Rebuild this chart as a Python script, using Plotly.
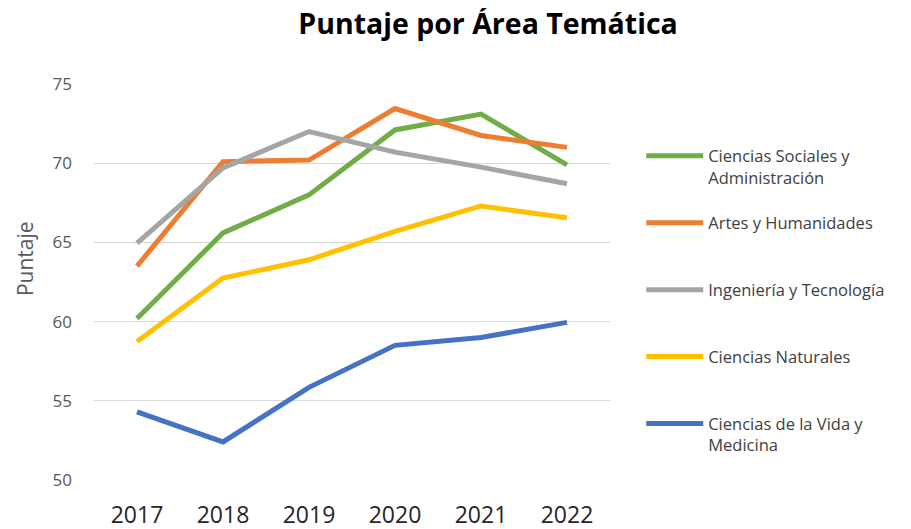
import plotly.graph_objects as go

years = ["2017", "2018", "2019", "2020", "2021", "2022"]
series_names = [
    "Ciencias Sociales y<br>Administración",
    "Artes y Humanidades<br> ",
    "Ingeniería y Tecnología<br> ",
    "Ciencias Naturales<br> ",
    "Ciencias de la Vida y<br>Medicina",
]
sociales = [60.2, 65.6, 68.0, 72.1, 73.1, 69.9]
artes = [63.5, 70.1, 70.2, 73.45, 71.75, 71.0]
ingenieria = [64.95, 69.7, 72.0, 70.7, 69.75, 68.7]
naturales = [58.75, 62.75, 63.9, 65.7, 67.3, 66.55]
vida = [54.3, 52.4, 55.85, 58.5, 59.0, 59.95]
colors = ["#70AD47", "#ED7D31", "#A5A5A5", "#FFC000", "#4472C4"]
y_ticks = [50, 55, 60, 65, 70, 75]

FONT = "Open Sans"
fig = go.Figure()
for i, (name, vals) in enumerate(zip(series_names, [sociales, artes, ingenieria, naturales, vida])):
    fig.add_trace(go.Scatter(
        x=years, y=vals, name=name, mode="lines",
        line=dict(color=colors[i], width=5),
        legendgroup="g%d" % i,
    ))

fig.update_layout(
    width=903, height=521,
    margin=dict(l=86, r=301, t=76, b=49, autoexpand=False),
    paper_bgcolor="white", plot_bgcolor="white",
    title=dict(text="<b>Puntaje por Área Temática</b>", x=0.5316, xanchor="center",
               y=0.9885, yanchor="top", pad=dict(t=0, b=0, l=0, r=0),
               font=dict(family=FONT, size=28.5, color="#000000")),
    font=dict(family=FONT, color="#595959"),
    showlegend=True,
    legend=dict(x=1.0605, xanchor="left", y=0.862, yanchor="top",
                font=dict(family=FONT, size=16.5, color="#404040"),
                tracegroupgap=21, valign="top", itemwidth=57,
                bgcolor="rgba(0,0,0,0)"),
    xaxis=dict(type="category", range=[-0.5, 5.5], showgrid=False, zeroline=False,
               showline=False, ticks="", automargin=False,
               tickfont=dict(family=FONT, size=23, color="#262626"),
               ticklabelstandoff=19),
    yaxis=dict(range=[50, 75], tickvals=y_ticks, showgrid=True, gridcolor="#D9D9D9",
               gridwidth=1, zeroline=False, showline=False, ticks="", automargin=False,
               tickfont=dict(family=FONT, size=17, color="#595959"),
               ticklabelstandoff=21),
    annotations=[dict(text="Puntaje", xref="paper", yref="paper",
                      x=-0.1337, y=0.558, xanchor="center", yanchor="middle",
                      textangle=-90, showarrow=False,
                      font=dict(family=FONT, size=21, color="#595959"))],
)
fig.write_html("out.html")
